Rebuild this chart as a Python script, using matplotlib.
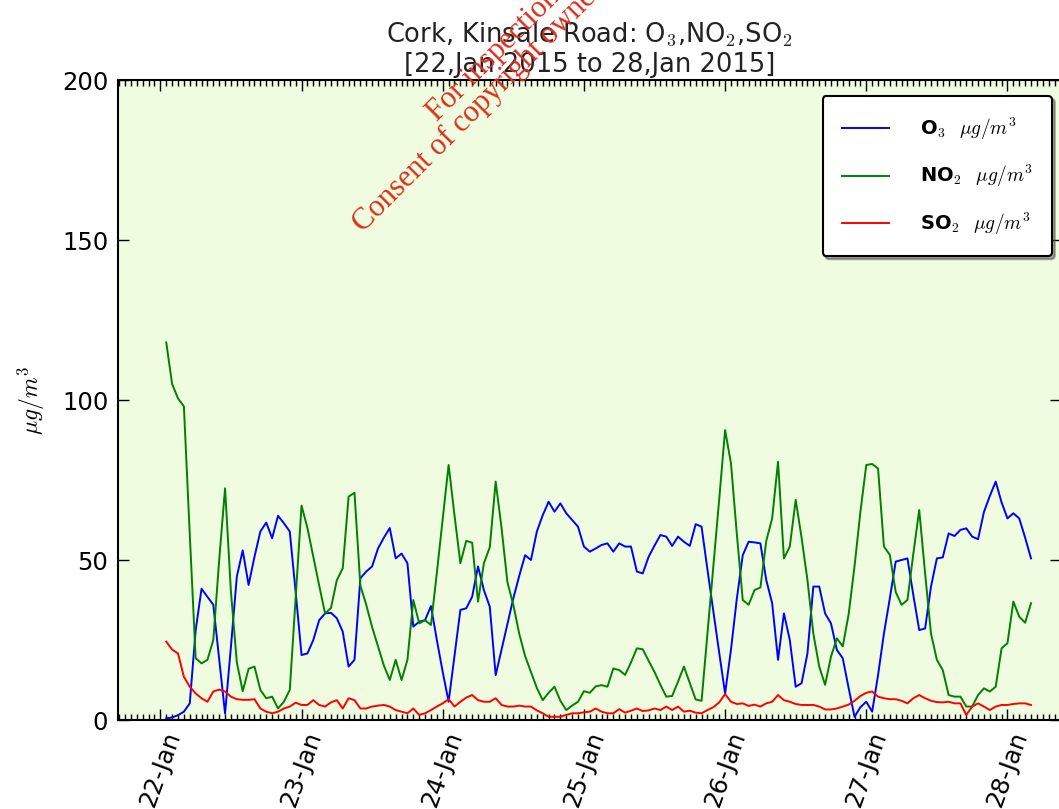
import matplotlib
matplotlib.use('Agg')
import matplotlib.pyplot as plt
import matplotlib.dates as mdates
from datetime import datetime, timedelta

plt.rcParams['mathtext.fontset'] = 'cm'

start = datetime(2015, 1, 22)
hours = list(range(1, 149))

o3 = [0.5, 0.8, 1.5, 2.6, 5.2, 28, 41, 38.5, 36, 19, 2, 23, 44.8, 53, 42.2, 51, 58.9, 61.7, 56.8, 63.8,
      61.5, 58.9, 40, 20.3, 20.8, 25, 31.2, 33.3, 33.5, 31.8, 27.6, 16.7, 18.8, 44.3, 46.4, 48, 53.6, 57, 60, 50.5,
      52, 49, 29.2, 30.7, 31.2, 35.6, 25, 15, 5.7, 20, 34.4, 34.9, 38.5, 48, 40.6, 35.4, 14, 22, 30, 38,
      45, 51.5, 50, 58.9, 64, 68.2, 65.1, 67.7, 64.6, 62.5, 60.4, 54.2, 52.6, 53.6, 54.7, 55.2, 52.6, 55.2, 54.2, 54.2,
      46.4, 45.8, 51, 54.5, 57.8, 57.3, 54.4, 57.3, 55.7, 54.4, 61.2, 60.4, 47, 34, 21, 8.3, 22, 38, 51.5, 55.7,
      55.5, 55.2, 43.7, 36.5, 18.8, 33.3, 25, 10.4, 11.5, 20.8, 41.7, 41.7, 33.3, 30.2, 21.9, 19.3, 10, 1, 4, 5.7,
      2.6, 14, 27, 38, 49.5, 50, 50.5, 39, 28.1, 28.6, 41.7, 50.5, 50.8, 58.3, 57.5, 59.4, 59.9, 57.3, 56.5, 65,
      70, 74.5, 68, 63, 64.6, 63, 57, 50.5]

no2 = [118, 105, 100.5, 98, 58, 19.3, 17.7, 18.8, 25, 50, 72.4, 40, 18, 9, 16, 16.7, 9.4, 6.8, 7.3, 3.6,
       5.7, 9.4, 38, 67, 60, 51, 42, 33.3, 35, 43.7, 47.4, 69.8, 71, 42, 36, 29, 23, 17, 12.5, 18.8,
       12.5, 18.8, 37.5, 30.2, 31.2, 29.7, 46, 63, 79.7, 64, 49, 56, 55.4, 37, 49, 54, 74.5, 60, 43, 36,
       27, 20, 15, 10, 6.2, 8.5, 10.4, 6, 3.1, 4.5, 5.7, 9, 8.5, 10.5, 10.9, 10.4, 16.1, 15.6, 14.1, 18,
       22.4, 22.1, 18.5, 15, 11, 7.3, 7.5, 12, 16.7, 11.5, 6.4, 6, 27, 48, 69, 90.6, 80.2, 58, 37.5, 36,
       40.6, 41.4, 56, 63, 80.7, 50.5, 54.2, 68.8, 57, 43.7, 27, 16.7, 11, 19.8, 25.5, 23, 33, 48, 65, 79.7,
       80, 78.6, 54.2, 51.6, 40, 36, 37.5, 52, 65.6, 45.8, 27, 18.8, 15.6, 7.8, 7.3, 7.3, 4.2, 4.2, 7.8, 9.9,
       8.9, 10.4, 22.4, 24, 37, 32.3, 30.4, 36.5]

so2 = [24.5, 22, 20.8, 13.5, 10.4, 8.3, 6.8, 5.7, 8.9, 9.5, 8.9, 7.3, 6.5, 6.3, 6.3, 6.5, 3.6, 2.6, 2.1, 2.6,
       3.6, 4.2, 5.4, 4.7, 4.7, 6.2, 4.7, 4.2, 5.5, 6.2, 3.6, 6.8, 6.2, 3.6, 3.6, 4.2, 4.5, 4.7, 4.2, 3.1,
       2.6, 2.1, 3.6, 1.6, 2.1, 3.1, 4.2, 5.2, 6.5, 4.2, 5.7, 7, 7.8, 6.2, 5.7, 5.7, 6.8, 4.7, 4.2, 4.2,
       4.5, 4.2, 4.2, 3, 2.1, 1, 1, 1, 1.6, 2.1, 2.1, 2.4, 2.6, 3.6, 2.6, 2.1, 2.1, 3.4, 2.3, 2.9,
       3.6, 2.8, 3, 3.6, 3.1, 4.2, 3.1, 4.2, 2.6, 2.9, 2.3, 2.1, 3.1, 4, 5.5, 8.1, 5.7, 5, 5.2, 4.4,
       4.8, 4.2, 5.2, 5.7, 7.8, 6.2, 5.7, 5, 4.7, 4.7, 4.7, 4.2, 3.3, 3.3, 3.6, 4.2, 4.8, 6, 7.5, 8.5,
       8.9, 7.3, 6.8, 6.5, 6.5, 6, 5.2, 6.8, 7.8, 6.8, 6, 5.6, 5.5, 5.7, 5.2, 5.2, 1.6, 4.2, 5.2, 4.2,
       3.1, 4.2, 4.7, 4.7, 5, 5.2, 5.2, 4.7]

labels = ['O$_3$  $\\mu g/m^3$', 'NO$_2$  $\\mu g/m^3$', 'SO$_2$  $\\mu g/m^3$']
colors = ['b', 'g', 'r']
yticks = [0, 50, 100, 150, 200]

times = [start + timedelta(hours=h) for h in hours]

W, H = 1059, 809
fig = plt.figure(figsize=(W / 100, H / 100), dpi=100)
ax = fig.add_axes([118 / W, 1 - 720 / H, 943 / W, 640 / H])
ax.set_facecolor('#effcdf')

for series, lab, col in zip([o3, no2, so2], labels, colors):
    ax.plot(times, series, color=col, lw=1.4, label=lab)

ax.set_ylim(0, 200)
ax.set_yticks(yticks)
ax.set_xlim(start + timedelta(hours=-7.2), start + timedelta(hours=153.1))
ax.xaxis.set_major_locator(mdates.DayLocator())
ax.xaxis.set_major_formatter(mdates.DateFormatter('%d-%b'))
ax.xaxis.set_minor_locator(mdates.HourLocator())
ax.tick_params(which='both', direction='in', top=True, right=True, labelsize=17.5, width=1)
ax.tick_params(which='major', length=8)
ax.tick_params(which='minor', length=4)
ax.tick_params(axis='y', pad=7)
ax.tick_params(axis='x', pad=6)
for lbl in ax.get_xticklabels():
    lbl.set_rotation(70)
    lbl.set_ha('center')
for sp in ax.spines.values():
    sp.set_linewidth(1.5)

ax.set_title('Cork, Kinsale Road: O$_3$,NO$_2$,SO$_2$\n[22,Jan 2015 to 28,Jan 2015]',
             fontsize=18.5, color='#222222', pad=6)
ax.set_ylabel('$\\mu g/m^3$', fontsize=17, labelpad=11)

leg = ax.legend(loc='upper right', bbox_to_anchor=(1052 / W, 1 - 96 / H),
                bbox_transform=fig.transFigure, borderaxespad=0,
                shadow=True, fancybox=True, framealpha=1,
                prop={'weight': 'bold', 'size': 14},
                labelspacing=1.1, handlelength=2.4, handletextpad=1.6,
                borderpad=1.0)
leg.get_frame().set_edgecolor('black')
leg.get_frame().set_linewidth(1.5)

wm = dict(rotation=45, rotation_mode='anchor', ha='left', va='baseline',
          color='#d8301c', fontsize=22, family='Liberation Serif', zorder=20)
fig.text(437 / W, 1 - 122 / H, 'For inspection purposes only.', **wm)
fig.text(363 / W, 1 - 233 / H, 'Consent of copyright owner required for any other use.', **wm)

fig.savefig('out.png', dpi=100)
